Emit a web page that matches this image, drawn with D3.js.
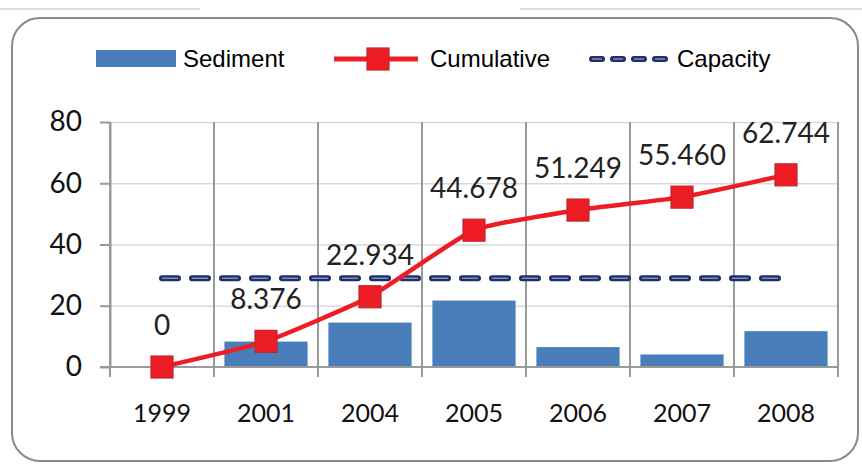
<!DOCTYPE html>
<html>
<head>
<meta charset="utf-8">
<script src="https://cdn.jsdelivr.net/npm/d3@7"></script>
<style>
body { margin:0; background:#fff; }
.grid line { stroke:#d9d9d9; stroke-width:1.5; }
.grid path { stroke:none; }
.y.axis path, .y.axis line { stroke:#999; stroke-width:2; }
.y.axis text { font-family:Lato, sans-serif; font-size:28px; fill:#111; }
.xlab { font-family:Lato, sans-serif; font-size:25px; fill:#111; }
.vlab { font-family:Lato, sans-serif; font-size:28px; fill:#222; }
.leg { font-family:"Liberation Sans", Arial, sans-serif; font-size:24px; fill:#000; }
</style>
</head>
<body>
<svg id="chart" width="862" height="465"></svg>
<script>
// data
var years=["1999","2001","2004","2005","2006","2007","2008"]
var sediment=[0,8.3,14.5,21.7,6.5,4.1,11.7]
var cumulative=[0,8.376,22.934,44.678,51.249,55.460,62.744]
var cumLabels=["0","8.376","22.934","44.678","51.249","55.460","62.744"]
var capacity=[29,29,29,29,29,29,29]
var yTicks=[0,20,40,60,80]

var svg=d3.select("#chart")

// frame
svg.append("line").attr("x1",0).attr("x2",200).attr("y1",9).attr("y2",9)
   .attr("stroke","#ccc").attr("stroke-width",1.5)
svg.append("line").attr("x1",520).attr("x2",862).attr("y1",9).attr("y2",9)
   .attr("stroke","#ccc").attr("stroke-width",1.5)
svg.append("rect").attr("x",12).attr("y",18).attr("width",846).attr("height",443)
   .attr("rx",28).attr("ry",28).attr("fill","#fff")
   .attr("stroke","#8a8a8a").attr("stroke-width",2)

var xScale=d3.scaleBand().domain(years).range([110,838]).paddingInner(0.2).paddingOuter(0.1)
var yScale=d3.scaleLinear().domain([0,80]).range([367,122])

// horizontal gridlines
svg.append("g").attr("class","grid")
   .attr("transform","translate(110,0)")
   .call(d3.axisRight(yScale).tickValues(yTicks.slice(1)).tickSize(728).tickFormat(""))

// vertical category lines
var half=(xScale.step()-xScale.bandwidth())/2
var bounds=years.map(function(d){ return xScale(d)-half }).concat([838])
svg.append("g").selectAll("line").data(bounds).enter().append("line")
   .attr("x1",function(d){return d}).attr("x2",function(d){return d})
   .attr("y1",yScale(80)).attr("y2",yScale(0)+10)
   .attr("stroke","#999").attr("stroke-width",2)

// bars
svg.append("g").selectAll("rect").data(sediment).enter().append("rect")
   .attr("x",function(d,i){return xScale(years[i])})
   .attr("width",xScale.bandwidth())
   .attr("y",function(d){return yScale(d)})
   .attr("height",function(d){return yScale(0)-yScale(d)})
   .attr("fill","#4a7ebb")

// y axis
svg.append("g").attr("class","y axis")
   .attr("transform","translate(110,0)")
   .call(d3.axisLeft(yScale).tickValues(yTicks).tickSize(10).tickSizeOuter(0).tickPadding(18))
// x axis line
svg.append("line").attr("x1",100).attr("x2",838).attr("y1",yScale(0)).attr("y2",yScale(0))
   .attr("stroke","#999").attr("stroke-width",2)

// x labels
svg.append("g").selectAll("text").data(years).enter().append("text")
   .attr("class","xlab").attr("text-anchor","middle")
   .attr("x",function(d){return xScale(d)+xScale.bandwidth()/2})
   .attr("y",422).text(function(d){return d})

var cx=function(d,i){ return xScale(years[i])+xScale.bandwidth()/2 }

// capacity dashed line
var capLine=d3.line().x(cx).y(function(d){return yScale(d)})
svg.append("path").datum(capacity).attr("d",capLine)
   .attr("fill","none").attr("stroke","#1f2f66").attr("stroke-width",6)
   .attr("stroke-linecap","round").attr("stroke-dasharray","16,14")
svg.append("path").datum(capacity).attr("d",capLine)
   .attr("fill","none").attr("stroke","#7f8fbf").attr("stroke-width",1.5)
   .attr("stroke-dasharray","16,14")

// cumulative line (excel-style smoothing)
var cumLine=d3.line().x(cx).y(function(d){return yScale(d)}).curve(d3.curveCardinal.tension(0.55))
svg.append("path").datum(cumulative).attr("d",cumLine)
   .attr("fill","none").attr("stroke","#ee1c25").attr("stroke-width",4.5)
var ms=22
svg.append("g").selectAll("rect").data(cumulative).enter().append("rect")
   .attr("x",function(d,i){return cx(d,i)-ms/2})
   .attr("y",function(d){return yScale(d)-ms/2})
   .attr("width",ms).attr("height",ms)
   .attr("fill","#ee1c25").attr("stroke","#c0262b").attr("stroke-width",1.2)

// value labels
svg.append("g").selectAll("text").data(cumulative).enter().append("text")
   .attr("class","vlab").attr("text-anchor","middle")
   .attr("x",cx)
   .attr("y",function(d){return yScale(d)-32})
   .text(function(d,i){return cumLabels[i]})

// legend
var lg=svg.append("g")
lg.append("rect").attr("x",96).attr("y",50).attr("width",80).attr("height",17).attr("fill","#4a7ebb")
lg.append("text").attr("class","leg").attr("x",183).attr("y",67).text("Sediment")
lg.append("line").attr("x1",334).attr("x2",418).attr("y1",59).attr("y2",59)
   .attr("stroke","#ee1c25").attr("stroke-width",5)
lg.append("rect").attr("x",367).attr("y",48).attr("width",22).attr("height",22)
   .attr("fill","#ee1c25").attr("stroke","#c0262b").attr("stroke-width",1.2)
lg.append("text").attr("class","leg").attr("x",430).attr("y",67).text("Cumulative")
lg.append("line").attr("x1",592).attr("x2",670).attr("y1",59).attr("y2",59)
   .attr("stroke","#1f2f66").attr("stroke-width",6).attr("stroke-linecap","round")
   .attr("stroke-dasharray","10,11")
lg.append("line").attr("x1",592).attr("x2",670).attr("y1",59).attr("y2",59)
   .attr("stroke","#7f8fbf").attr("stroke-width",1.5)
   .attr("stroke-dasharray","10,11")
lg.append("text").attr("class","leg").attr("x",677).attr("y",67).text("Capacity")
</script>
</body>
</html>
